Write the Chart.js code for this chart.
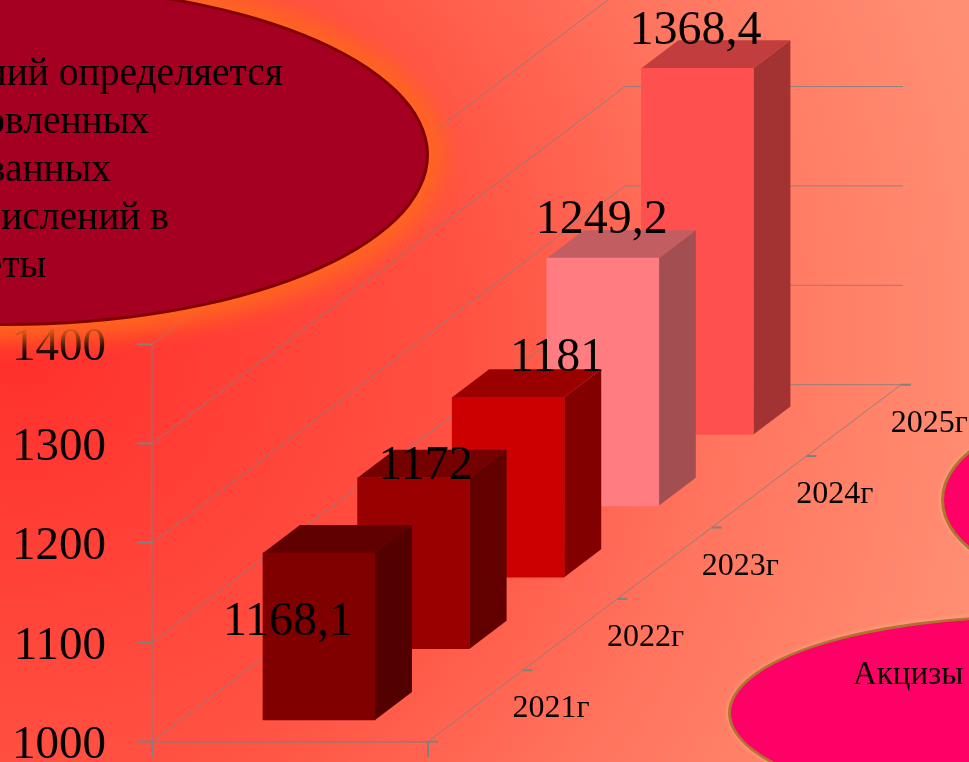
<!DOCTYPE html>
<html lang="ru">
<head>
<meta charset="utf-8">
<title>Chart</title>
<script src="https://cdn.jsdelivr.net/npm/chart.js@4/dist/chart.umd.min.js"></script>
<style>
  html,body{margin:0;padding:0;width:969px;height:762px;overflow:hidden}
  body{position:relative;font-family:"Liberation Serif",serif;color:#000;
    background:radial-gradient(circle 1000px at 20px 340px,#ff2f2c 0,#ff3f36 20%,#ff5242 45%,#ff745e 70%,#ff9074 100%)}
  #c{position:absolute;left:0;top:0;width:969px;height:762px}
  .oval{position:absolute;border-radius:50%;box-sizing:border-box}
  #o1{left:-419px;top:-16px;width:848px;height:342px;background:#a50021;border:3px solid #800000;
      box-shadow:0 0 20px 16px #ff6420}
  #o2{left:728px;top:615px;width:610px;height:196px;background:#ff0066;border:3px solid #b0742e;
      box-shadow:0 0 4px 1px rgba(255,180,140,.6)}
  #o3{left:941px;top:412px;width:320px;height:176px;background:#ff0066;border:3px solid #b0742e;
      box-shadow:0 0 4px 1px rgba(255,180,140,.6)}
  .t{position:absolute;white-space:nowrap;font-size:39.5px;line-height:48px}
</style>
</head>
<body>
<canvas id="c" width="969" height="762"></canvas>
<div class="oval" id="o1"></div>
<div class="oval" id="o2"></div>
<div class="oval" id="o3"></div>
<div class="t" style="right:686px;top:48px">ний определяется</div>
<div class="t" style="right:820px;top:96px">овленных</div>
<div class="t" style="right:858px;top:144px">ванных</div>
<div class="t" style="right:800px;top:192px">ислений в</div>
<div class="t" style="right:923px;top:240px">еты</div>
<div class="t" style="left:853px;top:649px;font-size:33px;line-height:48px">Акцизы и</div>
<script>
const categories = ['2021г', '2022г', '2023г', '2024г', '2025г'];
const values = [1168.1, 1172, 1181, 1249.2, 1368.4];
const tickValues = [1000, 1100, 1200, 1300, 1400];
const barColors = ['#800000', '#990000', '#cc0000', '#ff7c80', '#ff5050'];

/* Perspective of the slide's 3-D column chart */
const FONT = '"Liberation Serif", serif';
const STEP_X = 94.6, STEP_UNITS = 71.83, FRONT_UNITS = 21.8;   // floor step per category
const SIDE_DX = 37, SIDE_DY = 28;
const WALL_RIGHT = 278;
const labelNudges = [[-31, 69], [12, -11], [49, -39], [-1, -38], [-2, -37]];

function shade(hex, k) {
  const n = parseInt(hex.slice(1), 16);
  const f = s => Math.round(((n >> s) & 255) * k);
  return `rgb(${f(16)},${f(8)},${f(0)})`;
}

class Bar3D extends Chart.BarElement {
  static id = 'bar3d';
  draw(ctx) {
    const {x, y, base, width, options} = this;
    const l = x - width / 2, r = x + width / 2, c = options.backgroundColor;
    ctx.save();
    ctx.fillStyle = shade(c, 0.64);
    ctx.beginPath();
    ctx.moveTo(r, y); ctx.lineTo(r + SIDE_DX, y - SIDE_DY);
    ctx.lineTo(r + SIDE_DX, base - SIDE_DY); ctx.lineTo(r, base);
    ctx.closePath(); ctx.fill();
    ctx.fillStyle = shade(c, 0.76);
    ctx.beginPath();
    ctx.moveTo(l, y); ctx.lineTo(l + SIDE_DX, y - SIDE_DY);
    ctx.lineTo(r + SIDE_DX, y - SIDE_DY); ctx.lineTo(r, y);
    ctx.closePath(); ctx.fill();
    ctx.restore();
    super.draw(ctx);
  }
}
Chart.register(Bar3D);
Chart.defaults.datasets.bar.dataElementType = 'bar3d';

// Back bars first so the nearer ones paint over them
const order = values.map((_, i) => i).reverse();
const points = order.map(i => {
  const lo = 1000 + FRONT_UNITS + STEP_UNITS * i;
  return {x: i, y: [lo, lo + values[i] - 1000]};
});

const frame3d = {
  id: 'frame3d',
  beforeDatasetsDraw(chart) {
    const {ctx, scales: {x, y}, chartArea} = chart;
    const left = chartArea.left;
    const n = categories.length;
    const depthX = STEP_X * n, depthY = y.getPixelForValue(1000) - y.getPixelForValue(1000 + STEP_UNITS * n);
    const frontW = 276;
    const y0 = y.getPixelForValue(1000);
    ctx.save();
    ctx.strokeStyle = 'rgba(128,128,128,0.85)';
    ctx.lineWidth = 1;
    tickValues.forEach(v => {
      const p = y.getPixelForValue(v);
      ctx.beginPath();
      ctx.moveTo(left, p);
      ctx.lineTo(left + depthX, p - depthY);
      ctx.lineTo(left + depthX + WALL_RIGHT, p - depthY);
      ctx.stroke();
    });
    ctx.beginPath();
    ctx.moveTo(left, y.getPixelForValue(1400)); ctx.lineTo(left, y0);
    ctx.stroke();
    ctx.beginPath();
    ctx.moveTo(left + frontW, y0);
    ctx.lineTo(left + frontW + depthX, y0 - depthY);
    ctx.stroke();
    ctx.strokeStyle = '#808080';
    ctx.lineWidth = 1.5;
    ctx.beginPath();
    ctx.moveTo(left, y0); ctx.lineTo(left + frontW, y0);
    ctx.stroke();
    ctx.lineWidth = 2;
    [left, left + frontW].forEach(px => {
      ctx.beginPath(); ctx.moveTo(px, y0); ctx.lineTo(px, y0 + 15); ctx.stroke();
    });
    for (let k = 0; k <= n; k++) {
      const px = left + frontW + STEP_X * k, py = y0 - depthY * k / n;
      ctx.beginPath(); ctx.moveTo(px, py); ctx.lineTo(px + 10, py); ctx.stroke();
    }
    ctx.restore();
  },
  afterDatasetsDraw(chart) {
    const {ctx} = chart;
    const els = chart.getDatasetMeta(0).data;
    ctx.save();
    ctx.fillStyle = '#000';
    ctx.textAlign = 'center';
    ctx.textBaseline = 'middle';
    order.forEach((i, idx) => {
      const el = els[idx];
      ctx.font = '32px ' + FONT;
      ctx.fillText(categories[i], el.x + 232, el.base - 11);
    });
    values.forEach((v, i) => {
      const el = els[order.indexOf(i)];
      ctx.font = '48px ' + FONT;
      ctx.fillText(String(v).replace('.', ','), el.x + labelNudges[i][0], el.y + labelNudges[i][1]);
    });
    ctx.restore();
  }
};

new Chart(document.getElementById('c'), {
  type: 'bar',
  data: {
    datasets: [{
      data: points,
      barThickness: 112,
      backgroundColor: order.map(i => barColors[i]),
      borderWidth: 0
    }]
  },
  options: {
    responsive: false,
    animation: false,
    layout: {autoPadding: false, padding: {top: 0, right: 0, left: 0, bottom: 20.3}},
    plugins: {legend: {display: false}, tooltip: {enabled: false}},
    scales: {
      x: {type: 'linear', offset: false, display: false, min: (152 - 319) / STEP_X, max: (969 - 319) / STEP_X},
      y: {
        min: 1000, max: 1746.2,
        afterFit(s) { s.width = 152; s.paddingTop = 0; s.paddingBottom = 0; },
        afterBuildTicks(s) { s.ticks = tickValues.map(v => ({value: v})); },
        border: {display: false},
        grid: {drawOnChartArea: false, drawTicks: true, tickLength: 15, tickColor: '#808080', tickWidth: 2},
        ticks: {autoSkip: false, padding: 31, labelOffset: 4, color: '#000', font: {family: FONT, size: 47},
                callback: v => String(v)}
      }
    }
  },
  plugins: [frame3d]
});
</script>
</body>
</html>
